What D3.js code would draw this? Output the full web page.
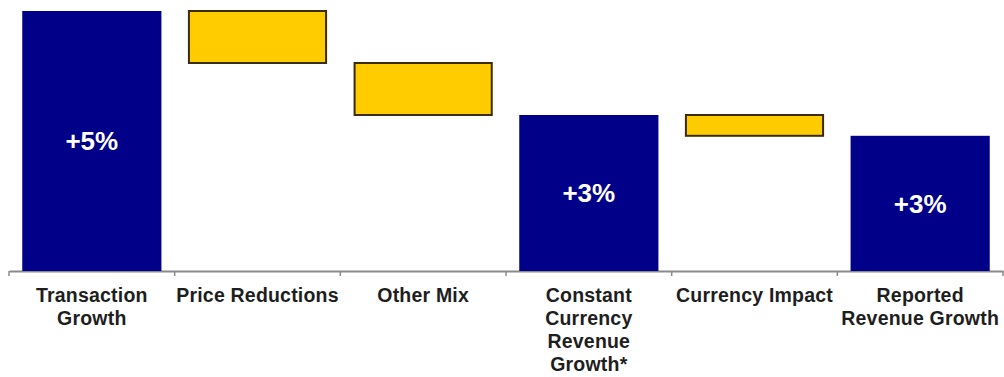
<!DOCTYPE html>
<html>
<head>
<meta charset="utf-8">
<script src="https://cdn.jsdelivr.net/npm/d3@7"></script>
<style>
  html, body { margin: 0; padding: 0; background: #ffffff; }
  svg { display: block; }
</style>
</head>
<body>
<svg id="chart" width="1004" height="377"></svg>
<script>
// ---- data ----
const categories = [
  "Transaction\nGrowth",
  "Price Reductions",
  "Other Mix",
  "Constant\nCurrency\nRevenue\nGrowth*",
  "Currency Impact",
  "Reported\nRevenue Growth"
];
const changes = [5.0, -1.0, -1.0, null, -0.4, null];   // null = subtotal bar
const kinds = ["total", "delta", "delta", "total", "delta", "total"];
const valueLabels = ["+5%", "", "", "+3%", "", "+3%"];

// ---- build waterfall ----
let running = 0;
const bars = categories.map((c, i) => {
  let y0, y1;
  if (kinds[i] === "total" && changes[i] === null) {
    y0 = 0; y1 = running;
  } else if (kinds[i] === "total") {
    running += changes[i];
    y0 = 0; y1 = running;
  } else {
    y0 = running; running += changes[i]; y1 = running;
  }
  return { cat: c, kind: kinds[i], lo: Math.min(y0, y1), hi: Math.max(y0, y1), label: valueLabels[i] };
});

const svg = d3.select("#chart");
const x = d3.scaleBand().domain(categories).range([9, 1003]).paddingInner(0.16).paddingOuter(0.08);
const y = d3.scaleLinear().domain([0, 5]).range([271, 11]);

// axis
const axis = d3.axisBottom(x).tickSize(0).tickFormat("");
const gAxis = svg.append("g").attr("transform", `translate(0,${y(0)})`).call(axis);
gAxis.select(".domain").attr("stroke", "#8a8a8a").attr("stroke-width", 2);

// category boundary ticks
const step = x.step();
const half = (x.paddingInner() * step) / 2;
const bounds = d3.range(categories.length + 1).map(i => x(categories[0]) - half + i * step);
svg.append("g").selectAll("line").data(bounds).join("line")
  .attr("x1", d => d).attr("x2", d => d)
  .attr("y1", y(0)).attr("y2", y(0) + 5)
  .attr("stroke", "#8a8a8a").attr("stroke-width", 1.5);

// bars
svg.append("g").selectAll("rect").data(bars).join("rect")
  .attr("x", d => x(d.cat) + (d.kind === "delta" ? 1 : 0))
  .attr("width", d => x.bandwidth() - (d.kind === "delta" ? 2 : 0))
  .attr("y", d => y(d.hi))
  .attr("height", d => y(d.lo) - y(d.hi))
  .attr("fill", d => d.kind === "total" ? "#000088" : "#FFCC00")
  .attr("stroke", d => d.kind === "total" ? "none" : "#3a2c08")
  .attr("stroke-width", 2);

// value labels
svg.append("g").selectAll("text").data(bars.filter(d => d.label)).join("text")
  .attr("x", d => x(d.cat) + x.bandwidth() / 2)
  .attr("y", d => (y(d.hi) + y(d.lo)) / 2)
  .attr("dy", "0.36em")
  .attr("text-anchor", "middle")
  .attr("fill", "#ffffff")
  .attr("font-family", "Liberation Sans, Arial, sans-serif")
  .attr("font-weight", "bold")
  .attr("font-size", 26)
  .text(d => d.label);

// category labels
const lab = svg.append("g").selectAll("text").data(categories).join("text")
  .attr("x", d => x(d) + x.bandwidth() / 2)
  .attr("y", 302)
  .attr("text-anchor", "middle")
  .attr("fill", "#1e1e1e")
  .attr("font-family", "Liberation Sans, Arial, sans-serif")
  .attr("font-weight", "bold")
  .attr("font-size", 19.5)
  .attr("letter-spacing", 0.2);
lab.each(function(d) {
  const t = d3.select(this);
  d.split("\n").forEach((line, i) => {
    t.append("tspan").attr("x", x(d) + x.bandwidth() / 2).attr("dy", i === 0 ? 0 : 23).text(line);
  });
});
</script>
</body>
</html>
